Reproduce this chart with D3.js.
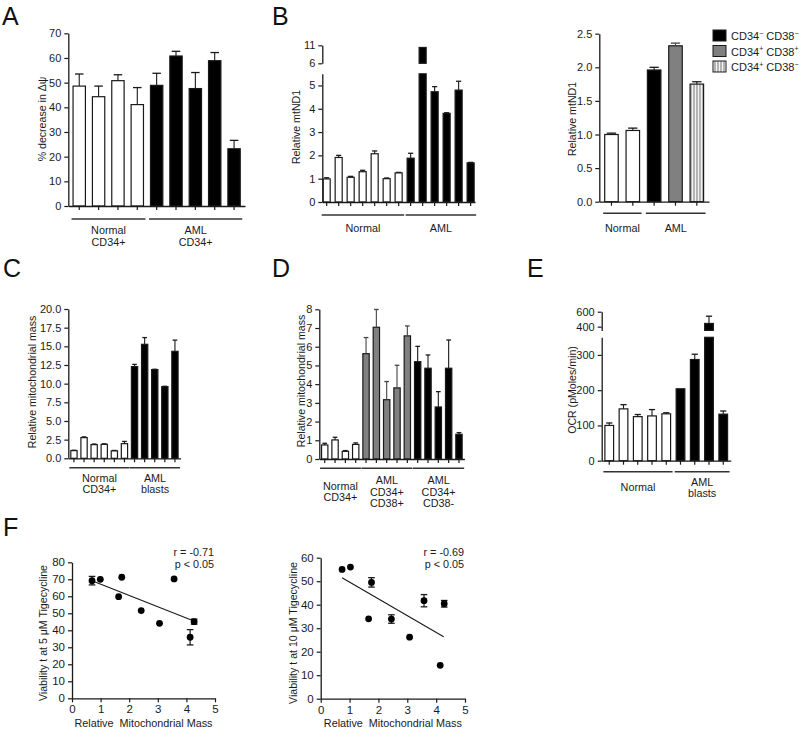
<!DOCTYPE html>
<html><head><meta charset="utf-8">
<script src="https://cdn.jsdelivr.net/npm/d3@7"></script>
<style>
html,body{margin:0;padding:0;background:#fff;}
svg{display:block;font-family:"Liberation Sans",Arial,sans-serif;}
</style></head>
<body><svg id="fig" width="800" height="730"></svg>
<script>
// ---------- DATA ----------
// Panel A: % decrease in Δψ
const aValues = [48.6, 44.3, 50.8, 41.1, 48.9, 60.8, 47.6, 58.9, 23.2];
const aErrors = [4.9, 4.3, 2.4, 6.9, 4.9, 1.9, 6.5, 3.3, 3.4];
const aKinds  = ["w","w","w","w","k","k","k","k","k"];
const aTicks  = [0,10,20,30,40,50,60,70];

// Panel B (left): Relative mtND1
const bValues = [0.99, 1.91, 1.06, 1.30, 2.07, 1.00, 1.25, 1.88, 10.4, 4.73, 3.80, 4.80, 1.68];
const bErrors = [0.05, 0.09, 0.04, 0.06, 0.12, 0.03, 0.02, 0.21, 0, 0.22, 0.03, 0.38, 0.02];
const bKinds  = ["w","w","w","w","w","w","w","k","k","k","k","k","k"];
const bTicksLow = [0,1,2,3,4,5];
const bTicksHigh = [6,11];

// Panel B (right): Relative mtND1 by subpopulation
const b2Values = [1.0, 1.06, 1.96, 2.32, 1.75];
const b2Errors = [0.02, 0.035, 0.04, 0.04, 0.035];
const b2Kinds  = ["w","w","k","g","h"];
const b2Ticks  = [0,0.5,1.0,1.5,2.0,2.5];
const legendLabels = [["CD34","\u2212"," CD38","\u2212"],["CD34","+"," CD38","+"],["CD34","+"," CD38","\u2212"]];
const legendKinds = ["k","g","h"];

// Panel C: Relative mitochondrial mass
const cValues = [1.03, 2.77, 1.83, 1.87, 1.0, 1.96, 12.28, 15.27, 11.88, 9.6, 14.33];
const cErrors = [0.05, 0.1, 0.08, 0.07, 0.05, 0.3, 0.3, 0.9, 0.05, 0.05, 1.5];
const cKinds  = ["w","w","w","w","w","w","k","k","k","k","k"];
const cTicks  = [0,2.5,5,7.5,10,12.5,15,17.5,20];

// Panel D: Relative mitochondrial mass by subpopulation
const dValues = [0.75, 1.02, 0.41, 0.78, 5.63, 7.04, 3.17, 3.80, 6.58, 5.20, 4.85, 2.78, 4.85, 1.32];
const dErrors = [0.09, 0.14, 0.04, 0.08, 0.86, 0.95, 0.97, 1.21, 0.53, 0.82, 0.71, 0.82, 1.51, 0.09];
const dKinds  = ["w","w","w","w","g","g","g","g","g","k","k","k","k","k"];
const dTicks  = [0,1,2,3,4,5,6,7,8];

// Panel E: OCR (pMoles/min)
const eValues = [100, 147, 125, 127, 133, 204, 287, 443, 132];
const eErrors = [7, 12, 6, 18, 3, 0, 15, 97, 9];
const eKinds  = ["w","w","w","w","w","k","k","k","k"];
const eTicksLow = [0,100,200,300];
const eTicksHigh = [400,600];

// Panel F: viability vs relative mitochondrial mass
const fLeftX   = [0.70, 0.99, 1.63, 1.74, 2.42, 3.06, 3.57, 4.13, 4.27];
const fLeftY   = [69.2, 70.0, 59.8, 71.2, 51.6, 44.1, 70.2, 35.9, 45.1];
const fLeftErr = [2.5, 0, 0, 0, 0, 0, 0, 4.5, 1.5];
const fLeftFitX = [0.70, 4.26];
const fLeftFitY = [69.2, 45.5];
const fRightX   = [0.74, 1.03, 1.66, 1.76, 2.45, 3.08, 3.58, 4.14, 4.28];
const fRightY   = [55.0, 56.0, 34.0, 49.5, 33.9, 26.2, 41.7, 14.2, 40.4];
const fRightErr = [0, 0, 0, 2.0, 1.8, 0, 2.6, 0, 1.4];
const fRightFitX = [0.74, 4.26];
const fRightFitY = [51.5, 26.4];
const fXTicks = [0,1,2,3,4,5];

// ---------- DRAW ----------
const svg = d3.select("#fig");
svg.append("rect").attr("width",800).attr("height",730).attr("fill","#fff");
const defs = svg.append("defs");
const pat = defs.append("pattern").attr("id","hatch").attr("patternUnits","userSpaceOnUse").attr("width",3).attr("height",6);
pat.append("rect").attr("width",3).attr("height",6).attr("fill","#f4f4f4");
pat.append("line").attr("x1",1).attr("x2",1).attr("y1",0).attr("y2",6).attr("stroke","#8a8a8a").attr("stroke-width",1.2);

const INK = "#1a1a1a";
const fillOf = k => k==="w" ? "#fff" : k==="g" ? "#808080" : k==="h" ? "url(#hatch)" : "#000";

function styleAxis(sel, fs){
  sel.select(".domain").attr("stroke",INK).attr("stroke-width",1.3);
  sel.selectAll(".tick line").attr("stroke",INK).attr("stroke-width",1.2);
  sel.selectAll(".tick text").attr("fill",INK).attr("font-size",fs||11).attr("font-family","Liberation Sans, Arial, sans-serif");
}

function ylabel(x,y,txt){
  svg.append("text").attr("transform",`translate(${x},${y}) rotate(-90)`)
    .attr("text-anchor","middle").attr("dy","0.35em").attr("font-size",10.6).attr("fill",INK).text(txt);
}
function letter(x,y,t){
  svg.append("text").attr("x",x).attr("y",y).attr("font-size",25).attr("fill","#111").text(t);
}

function barPanel(p){
  const g = svg.append("g");
  const n = p.values.length;
  const x = d3.scaleBand().domain(d3.range(n)).range([p.x0,p.x1]).paddingInner(p.pi).paddingOuter(p.po);
  const bw = x.bandwidth();
  const segs = p.segments.map(s => Object.assign({}, s, {scale: d3.scaleLinear().domain(s.domain).range(s.range)}));
  p.values.forEach((v,i) => {
    const k = p.kinds[i];
    segs.forEach(s => {
      if (v <= s.domain[0]) return;
      const top = s.scale(Math.min(v, s.domain[1]));
      const bot = s.scale(s.domain[0]);
      g.append("rect").attr("x",x(i)+0.5).attr("y",top).attr("width",bw-1).attr("height",bot-top)
        .attr("fill",fillOf(k)).attr("stroke",INK).attr("stroke-width",1.2);
    });
    const e = p.errors[i];
    if (e > 0){
      let seg = segs[0];
      segs.forEach(s => { if (v >= s.domain[0]) seg = s; });
      const cx = x(i) + bw/2, y1 = seg.scale(v), y2 = seg.scale(v+e);
      const cap = bw*0.32;
      const col = k==="g" ? "#444" : INK;
      g.append("line").attr("x1",cx).attr("x2",cx).attr("y1",y1).attr("y2",y2).attr("stroke",col).attr("stroke-width",1.1);
      g.append("line").attr("x1",cx-cap).attr("x2",cx+cap).attr("y1",y2).attr("y2",y2).attr("stroke",col).attr("stroke-width",1.3);
    }
  });
  segs.forEach(s => {
    const ax = g.append("g").attr("transform",`translate(${p.x0},0)`)
      .call(d3.axisLeft(s.scale).tickValues(s.ticks).tickFormat(p.fmt).tickSize(4).tickSizeOuter(0));
    styleAxis(ax);
  });
  const yBase = segs[0].range[0];
  const xa = g.append("g").attr("transform",`translate(0,${yBase})`)
    .call(d3.axisBottom(x).tickSize(4).tickSizeOuter(0).tickFormat(""));
  styleAxis(xa);
  const maxLines = d3.max(p.groups, gr => gr.lines.length);
  p.groups.forEach(gr => {
    const l = x(gr.from) - 1, r = x(gr.to) + bw + 1.5;
    g.append("line").attr("x1",l).attr("x2",r).attr("y1",p.groupY).attr("y2",p.groupY).attr("stroke","#333").attr("stroke-width",1.4);
    const b0 = p.labelY + (maxLines - gr.lines.length)*p.lh/2;
    gr.lines.forEach((t,j) => {
      g.append("text").attr("x",(l+r)/2).attr("y",b0 + j*p.lh).attr("text-anchor","middle")
        .attr("font-size",10.8).attr("fill",INK).text(t);
    });
  });
  return x;
}

// Panel A
letter(2,25,"A");
barPanel({values:aValues, errors:aErrors, kinds:aKinds, x0:68.3, x1:245, pi:0.31, po:0.22,
  segments:[{domain:[0,70], range:[206,33.3], ticks:aTicks}], fmt:d3.format("d"),
  groupY:219, labelY:234, lh:11.5,
  groups:[{from:0,to:3,lines:["Normal","CD34+"]},{from:4,to:8,lines:["AML","CD34+"]}]});
ylabel(42,119,"% decrease in \u0394\u03C8");

// Panel B left
letter(272,25,"B");
barPanel({values:bValues, errors:bErrors, kinds:bKinds, x0:322.3, x1:475, pi:0.33, po:0.03,
  segments:[{domain:[0,5.5], range:[202,73.8], ticks:bTicksLow},{domain:[6,11], range:[63.3,45.3], ticks:bTicksHigh}],
  fmt:d3.format("d"), groupY:215, labelY:232, lh:11.5,
  groups:[{from:0,to:6,lines:["Normal"]},{from:7,to:12,lines:["AML"]}]});
ylabel(296,127,"Relative mtND1");

// Panel B right
barPanel({values:b2Values, errors:b2Errors, kinds:b2Kinds, x0:599.3, x1:709, pi:0.32, po:0.23,
  segments:[{domain:[0,2.5], range:[201.7,33.7], ticks:b2Ticks}], fmt:d3.format(".1f"),
  groupY:213.3, labelY:232, lh:11.5,
  groups:[{from:0,to:1,lines:["Normal"]},{from:2,to:4,lines:["AML"]}]});
ylabel(572,119,"Relative mtND1");
// legend
const legY = [30,45.5,61];
legendKinds.forEach((k,i) => {
  svg.append("rect").attr("x",713).attr("y",legY[i]).attr("width",13).attr("height",11)
    .attr("fill",fillOf(k)).attr("stroke",INK).attr("stroke-width",1);
  const t = svg.append("text").attr("x",731).attr("y",legY[i]+10).attr("font-size",11).attr("fill",INK);
  const parts = legendLabels[i];
  t.append("tspan").text(parts[0]);
  t.append("tspan").attr("font-size",7).attr("dy",-4.5).text(parts[1]);
  t.append("tspan").attr("font-size",11).attr("dy",4.5).text(parts[2]);
  t.append("tspan").attr("font-size",7).attr("dy",-4.5).text(parts[3]);
});

// Panel C
letter(3,277,"C");
barPanel({values:cValues, errors:cErrors, kinds:cKinds, x0:68.3, x1:180.6, pi:0.28, po:0.2,
  segments:[{domain:[0,20], range:[458.3,309], ticks:cTicks}], fmt:d3.format(".1f"),
  groupY:467.7, labelY:482, lh:11,
  groups:[{from:0,to:5,lines:["Normal","CD34+"]},{from:6,to:10,lines:["AML","blasts"]}]});
ylabel(32,382,"Relative mitochondrial mass");

// Panel D
letter(272,277,"D");
barPanel({values:dValues, errors:dErrors, kinds:dKinds, x0:319.3, x1:464.4, pi:0.29, po:0.17,
  segments:[{domain:[0,8], range:[459,309.3], ticks:dTicks}], fmt:d3.format("d"),
  groupY:468.3, labelY:484, lh:11.5,
  groups:[{from:0,to:3,lines:["Normal","CD34+"]},{from:4,to:8,lines:["AML","CD34+","CD38+"]},{from:9,to:13,lines:["AML","CD34+","CD38-"]}]});
ylabel(301,381,"Relative mitochondrial mass");

// Panel E
letter(527,277,"E");
barPanel({values:eValues, errors:eErrors, kinds:eKinds, x0:601.7, x1:730.8, pi:0.32, po:0.19,
  segments:[{domain:[0,350], range:[460.7,337.3], ticks:eTicksLow},{domain:[350,600], range:[330.4,311.7], ticks:eTicksHigh}],
  fmt:d3.format("d"), groupY:471.7, labelY:485.7, lh:11.3,
  groups:[{from:0,to:4,lines:["Normal"]},{from:5,to:8,lines:["AML","blasts"]}]});
ylabel(572,390,"OCR (pMoles/min)");

// Panel F
letter(3,536,"F");
function scatterPanel(p){
  const g = svg.append("g");
  const x = d3.scaleLinear().domain([0,5]).range([p.x0,p.x1]);
  const y = d3.scaleLinear().domain([0,p.ymax]).range([p.y0,p.y1]);
  const ya = g.append("g").attr("transform",`translate(${p.x0},0)`)
    .call(d3.axisLeft(y).tickValues(p.yTicks).tickFormat(d3.format("d")).tickSize(4).tickSizeOuter(0));
  styleAxis(ya, 11.5);
  const xa = g.append("g").attr("transform",`translate(0,${p.y0})`)
    .call(d3.axisBottom(x).tickValues(fXTicks).tickFormat(d3.format("d")).tickSize(4).tickSizeOuter(0));
  styleAxis(xa, 11.5);
  g.append("line").attr("x1",x(p.fitX[0])).attr("x2",x(p.fitX[1])).attr("y1",y(p.fitY[0])).attr("y2",y(p.fitY[1]))
    .attr("stroke",INK).attr("stroke-width",1.1);
  p.xs.forEach((xv,i) => {
    const e = p.errs[i];
    if (e > 0){
      const cx = x(xv);
      g.append("line").attr("x1",cx).attr("x2",cx).attr("y1",y(p.ys[i]-e)).attr("y2",y(p.ys[i]+e)).attr("stroke",INK).attr("stroke-width",1.2);
      [p.ys[i]-e, p.ys[i]+e].forEach(v => g.append("line").attr("x1",cx-3.3).attr("x2",cx+3.3).attr("y1",y(v)).attr("y2",y(v)).attr("stroke",INK).attr("stroke-width",1.3));
    }
    g.append("circle").attr("cx",x(xv)).attr("cy",y(p.ys[i])).attr("r",3.4).attr("fill","#000");
  });
  g.append("text").attr("x",p.x1-1).attr("y",555.5).attr("text-anchor","end").attr("font-size",10.8).attr("fill",INK).text(p.r);
  g.append("text").attr("x",p.x1-1).attr("y",568.2).attr("text-anchor","end").attr("font-size",10.8).attr("fill",INK).text("p < 0.05");
  g.append("text").attr("x",(p.x0+p.x1)/2).attr("y",726.5).attr("text-anchor","middle").attr("font-size",10.8).attr("fill",INK)
    .attr("xml:space","preserve").text("Relative  Mitochondrial Mass");
}
scatterPanel({x0:72, x1:215, y0:698.3, y1:562.3, ymax:80, yTicks:[0,10,20,30,40,50,60,70,80],
  xs:fLeftX, ys:fLeftY, errs:fLeftErr, fitX:fLeftFitX, fitY:fLeftFitY, r:"r = -0.71"});
ylabel(43,633,"Viability t at 5 \u03BCM Tigecycline");
scatterPanel({x0:320.7, x1:465, y0:698.7, y1:557.7, ymax:60, yTicks:[0,10,20,30,40,50,60],
  xs:fRightX, ys:fRightY, errs:fRightErr, fitX:fRightFitX, fitY:fRightFitY, r:"r = -0.69"});
ylabel(293,633,"Viability t at 10 \u03BCM Tigecycline");
</script>
</body></html>
